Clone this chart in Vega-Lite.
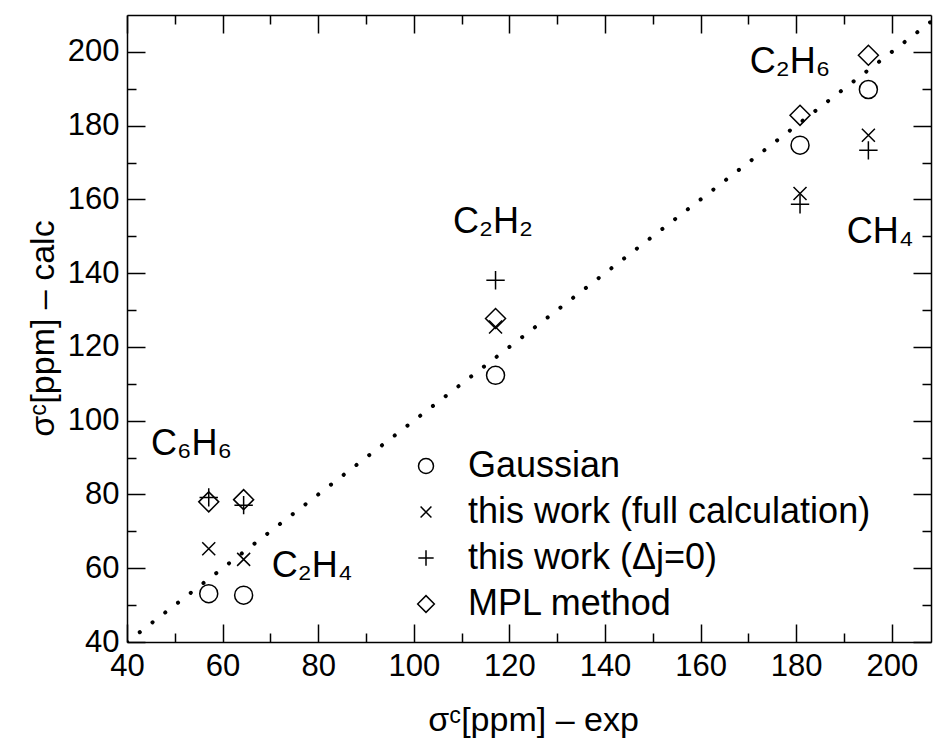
{
  "$schema": "https://vega.github.io/schema/vega-lite/v6.json",
  "width": 804,
  "height": 627,
  "autosize": {"type": "none"},
  "padding": {"left": 127, "top": 15, "right": 2, "bottom": 96},
  "background": "white",
  "config": {
    "view": {"stroke": null},
    "font": "Liberation Sans",
    "axis": {
      "grid": false,
      "domainColor": "black",
      "tickColor": "black",
      "labelColor": "black",
      "domainWidth": 1.5,
      "tickWidth": 1.5,
      "labelFont": "Liberation Sans",
      "labelFontSize": 31,
      "labelFlush": false,
      "labelOverlap": false,
      "labelBound": false,
      "titleFont": "Liberation Sans",
      "titleFontSize": 34,
      "titleFontWeight": "normal",
      "titleColor": "black"
    }
  },
  "datasets": {
    "diag": [{"x": 40, "y": 40}, {"x": 210, "y": 210}],
    "points": [
      {"molecule": "C6H6", "exp": 57.1, "calc": 53.1, "method": "Gaussian"},
      {"molecule": "C6H6", "exp": 57.1, "calc": 65.3, "method": "this work (full calculation)"},
      {"molecule": "C6H6", "exp": 57.1, "calc": 79.2, "method": "this work (Δj=0)"},
      {"molecule": "C6H6", "exp": 57.1, "calc": 78.0, "method": "MPL method"},
      {"molecule": "C2H4", "exp": 64.4, "calc": 52.7, "method": "Gaussian"},
      {"molecule": "C2H4", "exp": 64.4, "calc": 62.4, "method": "this work (full calculation)"},
      {"molecule": "C2H4", "exp": 64.4, "calc": 77.1, "method": "this work (Δj=0)"},
      {"molecule": "C2H4", "exp": 64.4, "calc": 78.6, "method": "MPL method"},
      {"molecule": "C2H2", "exp": 117.1, "calc": 112.3, "method": "Gaussian"},
      {"molecule": "C2H2", "exp": 117.1, "calc": 125.4, "method": "this work (full calculation)"},
      {"molecule": "C2H2", "exp": 117.1, "calc": 138.1, "method": "this work (Δj=0)"},
      {"molecule": "C2H2", "exp": 117.1, "calc": 127.7, "method": "MPL method"},
      {"molecule": "C2H6", "exp": 180.8, "calc": 174.7, "method": "Gaussian"},
      {"molecule": "C2H6", "exp": 180.8, "calc": 161.6, "method": "this work (full calculation)"},
      {"molecule": "C2H6", "exp": 180.8, "calc": 158.7, "method": "this work (Δj=0)"},
      {"molecule": "C2H6", "exp": 180.8, "calc": 182.8, "method": "MPL method"},
      {"molecule": "CH4", "exp": 195.1, "calc": 189.8, "method": "Gaussian"},
      {"molecule": "CH4", "exp": 195.1, "calc": 177.4, "method": "this work (full calculation)"},
      {"molecule": "CH4", "exp": 195.1, "calc": 173.3, "method": "this work (Δj=0)"},
      {"molecule": "CH4", "exp": 195.1, "calc": 199.1, "method": "MPL method"}
    ],
    "labels": [
      {"label": "C₂H₆", "x": 170.3, "y": 194.2, "group": "right"},
      {"label": "CH₄", "x": 190.6, "y": 148.1, "group": "right"},
      {"label": "C₂H₂", "x": 108.2, "y": 150.8, "group": "left"},
      {"label": "C₆H₆", "x": 45.0, "y": 90.6, "group": "left"},
      {"label": "C₂H₄", "x": 70.3, "y": 57.5, "group": "left"}
    ]
  },
  "layer": [
    {
      "data": {"name": "diag"},
      "mark": {"type": "line", "strokeDash": [0.1, 16], "strokeCap": "round", "strokeWidth": 4, "color": "black", "clip": true},
      "encoding": {
        "x": {
          "field": "x", "type": "quantitative",
          "scale": {"domain": [40, 208.2], "nice": false, "zero": false},
          "axis": {
            "orient": "bottom",
            "values": [40, 60, 80, 100, 120, 140, 160, 180, 200],
            "tickSize": -18,
            "labelPadding": 27,
            "title": "σᶜ[ppm] – exp",
            "titleX": 406,
            "titleY": 88.5,
            "titleAlign": "center",
            "titleBaseline": "alphabetic"
          }
        },
        "y": {
          "field": "y", "type": "quantitative",
          "scale": {"domain": [40, 210], "nice": false, "zero": false},
          "axis": {
            "orient": "left",
            "values": [40, 60, 80, 100, 120, 140, 160, 180, 200],
            "tickSize": -18,
            "labelPadding": 26,
            "title": "σᶜ[ppm] – calc",
            "titleX": -74,
            "titleY": 313,
            "titleAngle": -90,
            "titleAlign": "center",
            "titleBaseline": "alphabetic"
          }
        }
      }
    },
    {
      "data": {"name": "points"},
      "mark": {"type": "point", "filled": false, "stroke": "black", "strokeWidth": 1.5, "size": 400, "opacity": 1},
      "encoding": {
        "x": {
          "field": "exp", "type": "quantitative",
          "scale": {"domain": [40, 208.2], "nice": false, "zero": false},
          "axis": {"orient": "top", "values": [40, 60, 80, 100, 120, 140, 160, 180, 200], "tickSize": -18, "labels": false, "title": null}
        },
        "y": {
          "field": "calc", "type": "quantitative",
          "scale": {"domain": [40, 210], "nice": false, "zero": false},
          "axis": {"orient": "right", "values": [40, 60, 80, 100, 120, 140, 160, 180, 200], "tickSize": -18, "labels": false, "title": null}
        },
        "shape": {
          "field": "method", "type": "nominal",
          "scale": {
            "domain": ["Gaussian", "this work (full calculation)", "this work (Δj=0)", "MPL method"],
            "range": [
              "M0.9,0A0.9,0.9,0,1,1,-0.9,0A0.9,0.9,0,1,1,0.9,0Z",
              "M-0.65,-0.65L0.65,0.65M-0.65,0.65L0.65,-0.65",
              "M-0.92,0L0.92,0M0,-0.92L0,0.92",
              "M-1,0L0,-1L1,0L0,1Z"
            ]
          },
          "legend": {
            "orient": "none",
            "legendX": 281,
            "legendY": 433,
            "title": null,
            "padding": 0,
            "labelFont": "Liberation Sans",
            "labelFontSize": 36,
            "labelColor": "black",
            "labelLimit": 0,
            "labelOffset": 24,
            "rowPadding": 10,
            "symbolSize": 278,
            "symbolStrokeWidth": 1.5,
            "symbolStrokeColor": "black",
            "symbolFillColor": "transparent"
          }
        }
      }
    },
    {
      "data": {"name": "labels"},
      "transform": [{"filter": "datum.group == 'left'"}],
      "mark": {"type": "text", "align": "left", "baseline": "alphabetic", "fontSize": 36, "font": "Liberation Sans", "color": "black"},
      "encoding": {
        "x": {
          "field": "x", "type": "quantitative",
          "scale": {"domain": [40, 208.2], "nice": false, "zero": false},
          "axis": {"orient": "bottom", "values": [50, 70, 90, 110, 130, 150, 170, 190], "tickSize": -9, "labels": false, "domain": false, "title": null}
        },
        "y": {
          "field": "y", "type": "quantitative",
          "scale": {"domain": [40, 210], "nice": false, "zero": false},
          "axis": {"orient": "left", "values": [50, 70, 90, 110, 130, 150, 170, 190], "tickSize": -9, "labels": false, "domain": false, "title": null}
        },
        "text": {"field": "label"}
      }
    },
    {
      "data": {"name": "labels"},
      "transform": [{"filter": "datum.group == 'right'"}],
      "mark": {"type": "text", "align": "left", "baseline": "alphabetic", "fontSize": 36, "font": "Liberation Sans", "color": "black"},
      "encoding": {
        "x": {
          "field": "x", "type": "quantitative",
          "scale": {"domain": [40, 208.2], "nice": false, "zero": false},
          "axis": {"orient": "top", "values": [50, 70, 90, 110, 130, 150, 170, 190], "tickSize": -9, "labels": false, "domain": false, "title": null}
        },
        "y": {
          "field": "y", "type": "quantitative",
          "scale": {"domain": [40, 210], "nice": false, "zero": false},
          "axis": {"orient": "right", "values": [50, 70, 90, 110, 130, 150, 170, 190], "tickSize": -9, "labels": false, "domain": false, "title": null}
        },
        "text": {"field": "label"}
      }
    }
  ],
  "resolve": {"axis": {"x": "independent", "y": "independent"}}
}
